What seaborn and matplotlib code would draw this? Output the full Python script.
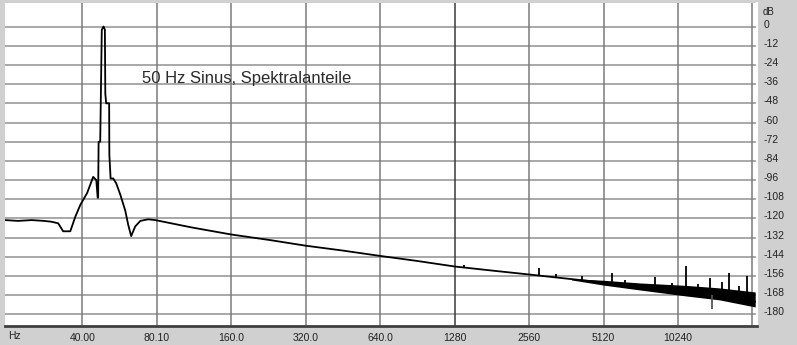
import numpy as np
import pandas as pd
import matplotlib
matplotlib.use("Agg")
import matplotlib.pyplot as plt
import matplotlib.transforms as mtransforms
import seaborn as sns

# ---- data ----
curve_hz = [19.5, 22, 25, 28, 30, 32, 33.5, 35.8, 37.5, 39.3, 41.9, 44.3, 45.6, 46.2,
            46.4, 46.6, 47.3, 48.0, 48.8, 49.4, 49.6, 50.0, 51.4, 51.5, 52.1, 53.4,
            54.9, 57.0, 59.7, 61.4, 63.1, 65.5, 68.7, 73.9, 79, 110, 160, 230, 320,
            450, 640, 900, 1280, 1800, 2560, 3600, 5120, 7200, 10240, 14500, 21000]
curve_db = [-121, -121.5, -121, -121.5, -122, -123, -128, -128, -119, -111.5, -104, -94,
            -96, -107, -107, -72, -72, -2, 0, -2, -42, -48, -48, -80, -95, -95,
            -98, -105, -115, -124, -131, -125, -121.5, -120.5, -121, -125.5, -130,
            -133.5, -137, -140, -143.4, -146.5, -150, -152.5, -155, -157.5, -160,
            -162.5, -165, -168.5, -172]

spike_hz = [1400, 2809, 3300, 4200, 5540, 6255, 8268, 9680, 11030, 12300, 13800,
            15420, 16460, 18000, 19460]
spike_base_db = [-150.5, -155.6, -157, -158.5, -160.5, -161.3, -163, -164.3, -165.6,
                 -166.5, -167.5, -168.5, -169, -170, -171]
spike_top_db = [-149, -151, -154.5, -156, -154, -158.4, -156.6, -160.3, -149.7,
                -161, -157.2, -159.7, -154, -162, -156]
neg_spike_hz = [14000]
neg_spike_top_db = [-168]
neg_spike_bottom_db = [-176.6]

band_hz = [3800, 5100, 7200, 11000, 15100, 21000]
band_hi = [-157.6, -158.6, -160.3, -161.8, -163.4, -165.9]
band_lo = [-158.4, -161.6, -164.7, -168.4, -170.9, -175.3]

grid_hz = [40, 80, 160, 320, 640, 1280, 2560, 5120, 10240, 20480]
x_labels = ["40.00", "80.10", "160.0", "320.0", "640.0", "1280", "2560", "5120", "10240", ""]
y_ticks = [0, -12, -24, -36, -48, -60, -72, -84, -96, -108, -120, -132, -144, -156, -168, -180]
y_labels = [str(v) for v in y_ticks]
title_text = "50 Hz Sinus, Spektralanteile"

# ---- style ----
sns.set_style("white")
plt.rcParams['font.family'] = ['Liberation Sans', 'DejaVu Sans']

W, H = 797, 345
fig = plt.figure(figsize=(W / 100, H / 100), dpi=100, facecolor="#d0d0d0")
L, R, T, B = 5, 757, 3, 326
ax = fig.add_axes([L / W, 1 - B / H, (R - L) / W, (B - T) / H])
ax.set_facecolor("white")

ax.set_xscale("log", base=2)
ax.set_xlim(19.5, 21357)
ax.set_ylim(-187.2, 14.7)

# grid
for v in y_ticks:
    ax.axhline(v, color="#a8a8a8", lw=1.4, zorder=1)
for h in grid_hz:
    ax.axvline(h, color="#3a3a3a" if h == 1280 else "#7a7a7a", lw=1.1, zorder=1)

# band of dense noise
ax.fill_between(band_hz, band_lo, band_hi, color="black", lw=0, zorder=3)

# main curve
df = pd.DataFrame({"Hz": curve_hz, "dB": curve_db})
sns.lineplot(data=df, x="Hz", y="dB", sort=False, estimator=None, color="black",
             lw=1.3, ax=ax, zorder=4)

# spikes
ax.vlines(spike_hz, spike_base_db, spike_top_db, color="black", lw=1.3, zorder=4)
ax.vlines(neg_spike_hz, neg_spike_bottom_db, neg_spike_top_db, color="#555555", lw=1.3, zorder=4)

ax.text(70, -35.2, title_text, fontsize=12, color="#2a2a2a", ha="left", va="baseline", zorder=5)

# ticks
ax.set_xticks(grid_hz)
ax.set_xticklabels(x_labels)
ax.set_yticks(y_ticks)
ax.set_yticklabels(y_labels)
ax.minorticks_off()
ax.yaxis.tick_right()
ax.tick_params(axis="x", length=0, pad=5, labelsize=7.5, labelcolor="#222222")
ax.tick_params(axis="y", length=0, pad=5, labelsize=7.5, labelcolor="#222222")
for lbl in ax.get_yticklabels():
    lbl.set_horizontalalignment("left")
    lbl.set_transform(lbl.get_transform() + mtransforms.ScaledTranslation(0, 3 / 100, fig.dpi_scale_trans))
ax.set_xlabel("")
ax.set_ylabel("")

for s in ["top", "left"]:
    ax.spines[s].set_visible(False)
ax.spines["right"].set_color("white")
ax.spines["right"].set_linewidth(1.5)
ax.spines["bottom"].set_color("#404040")
ax.spines["bottom"].set_linewidth(2)

fig.text(763 / W, 1 - 12 / H, "dB", fontsize=7, color="#222222", ha="left", va="center")
fig.text(8 / W, 1 - 336 / H, "Hz", fontsize=7.5, color="#222222", ha="left", va="center")

fig.savefig("out.png", dpi=100, facecolor=fig.get_facecolor())
